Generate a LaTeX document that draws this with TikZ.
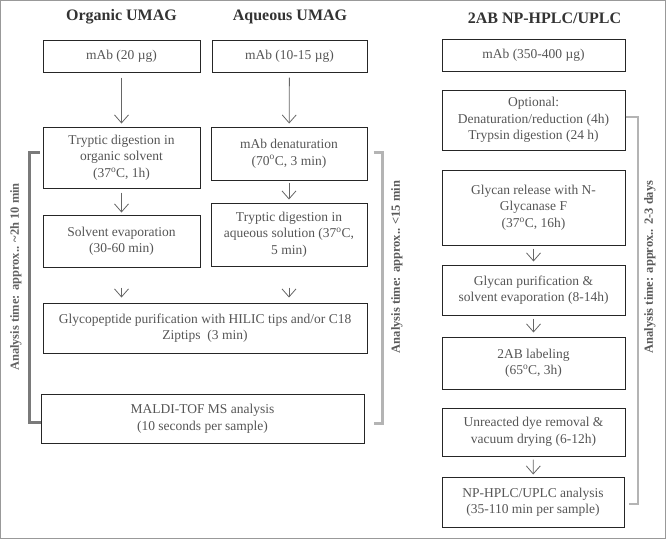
\documentclass[tikz,border=0pt]{standalone}
\usepackage{fontspec}
\setmainfont{Liberation Serif}
\usetikzlibrary{arrows.meta, positioning, calc}

\definecolor{boxtext}{HTML}{555555}
\definecolor{titletext}{HTML}{333333}
\definecolor{darkbrk}{HTML}{7A7A7A}
\definecolor{lightbrk}{HTML}{B4B4B4}

\tikzset{
  stepbox/.style={draw=black!85, line width=1pt, align=center, text=boxtext,
    font=\fontsize{13.5}{16.5}\selectfont, inner sep=0pt},
  headline/.style={font=\fontsize{16}{19}\selectfont\bfseries, text=titletext},
  flow/.style={draw=black!60, line width=0.8pt, -{Straight Barb[length=8pt,width=14pt]}},
  timelabel/.style={rotate=90, font=\fontsize{12.5}{15}\selectfont\bfseries, text=black!65},
}

\begin{document}
\begin{tikzpicture}[x=1pt, y=-1pt]
\useasboundingbox (0,0) rectangle (666,539);
\draw[black!40, line width=1pt] (0.5,0.5) rectangle (665.5,538.5);

% Column headings
\node[headline] (torg) at (121.5,17) {Organic UMAG};
\node[headline] (taq) at (290,17) {Aqueous UMAG};
\node[headline] (tnp) at (544.5,18) {2AB NP-HPLC/UPLC};

% Organic UMAG
\node[stepbox, minimum width=157, minimum height=32] (o1) at (121.5,56) {mAb (20 µg)};
\node[stepbox, minimum width=157, minimum height=61] (o2) at (121.5,157.5)
  {Tryptic digestion in\\ organic solvent\\ (37\textsuperscript{o}C, 1h)};
\node[stepbox, minimum width=157, minimum height=52] (o3) at (121.5,241)
  {Solvent evaporation\\ (30-60 min)};

% Aqueous UMAG
\node[stepbox, minimum width=155, minimum height=32] (a1) at (289.5,56) {mAb (10-15 µg)};
\node[stepbox, minimum width=156, minimum height=53] (a2) at (289,153.5)
  {mAb denaturation\\ (70\textsuperscript{o}C, 3 min)};
\node[stepbox, minimum width=156, minimum height=63] (a3) at (289,234.5)
  {Tryptic digestion in\\ aqueous solution (37\textsuperscript{o}C,\\ 5 min)};

% shared steps
\node[stepbox, minimum width=324, minimum height=50] (gp) at (205,328)
  {Glycopeptide purification with HILIC tips and/or C18\\ Ziptips~ (3 min)};
\node[stepbox, minimum width=323, minimum height=49] (ms) at (202.5,418.5)
  {MALDI-TOF MS analysis\\ (10 seconds per sample)};

% 2AB NP-HPLC/UPLC
\node[stepbox, minimum width=183, minimum height=32] (r1) at (533.5,55) {mAb (350-400 µg)};
\node[stepbox, minimum width=183, minimum height=60] (r2) at (533.5,120)
  {Optional:\\ Denaturation/reduction (4h)\\ Trypsin digestion (24 h)};
\node[stepbox, minimum width=183, minimum height=75] (r3) at (533.5,207.5)
  {Glycan release with N-\\ Glycanase F\\ (37\textsuperscript{o}C, 16h)};
\node[stepbox, minimum width=183, minimum height=50] (r4) at (533.5,290)
  {Glycan purification \&\\ solvent evaporation (8-14h)};
\node[stepbox, minimum width=183, minimum height=52] (r5) at (533.5,363)
  {2AB labeling\\ (65\textsuperscript{o}C, 3h)};
\node[stepbox, minimum width=183, minimum height=48] (r6) at (533.5,432)
  {Unreacted dye removal \&\\ vacuum drying (6-12h)};
\node[stepbox, minimum width=182, minimum height=50] (r7) at (533,502)
  {NP-HPLC/UPLC analysis\\ (35-110 min per sample)};

% Arrows
\draw[flow, shorten <=5pt, shorten >=3pt] (o1) -- (o2);
\draw[flow, shorten <=4pt, shorten >=2pt] (o2) -- (o3);
\draw[flow, shorten <=20pt, shorten >=5pt] (o3) -- (o3 |- gp.north);
\draw[flow, shorten <=5pt, shorten >=3pt] (a1) -- (a2);
\draw[flow, shorten <=2pt, shorten >=3pt] (a2) -- (a3);
\draw[flow, shorten <=21pt, shorten >=5pt] (a3) -- (a3 |- gp.north);
\draw[flow, shorten <=3pt, shorten >=3pt] (r3) -- (r4);
\draw[flow, shorten <=3pt, shorten >=4pt] (r4) -- (r5);
\draw[flow, shorten <=3pt, shorten >=2pt] (r6) -- (r7);

% Analysis time brackets
\draw[darkbrk, line width=3pt] ([xshift=-3pt,yshift=5.5pt]o2.west) -- ++(-10,0)
  |- ([yshift=-3.5pt]ms.west);
\node[timelabel, text=black!62] (torgtime) at (16,277) {Analysis time: approx.. \textasciitilde2h 10 min};

\draw[lightbrk, line width=3pt] ([xshift=6pt,yshift=1.5pt]a2.east) -- ++(9,0)
  |- ([xshift=9pt,yshift=-4.5pt]ms.east);
\node[timelabel] (taqtime) at (397,267) {Analysis time: approx.. <15 min};

\draw[lightbrk, line width=2pt] ([yshift=3pt]r2.east) -- ++(12,0)
  |- ([xshift=4pt,yshift=-2pt]r7.east);
\node[timelabel] (tnptime) at (650,267) {Analysis time: approx.. 2-3 days};
\end{tikzpicture}
\end{document}
